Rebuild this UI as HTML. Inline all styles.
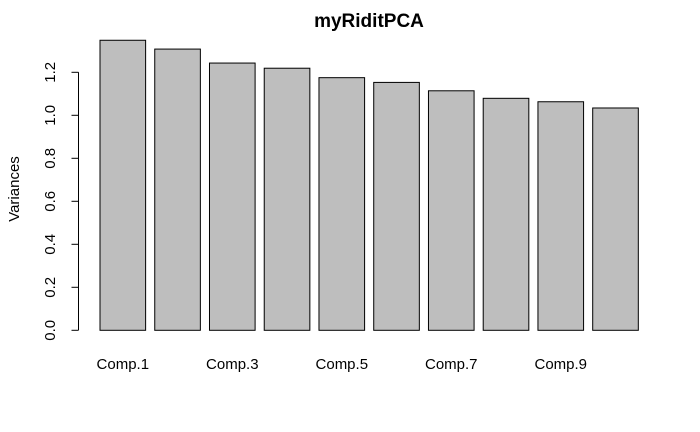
<!DOCTYPE html>
<html><head><meta charset="utf-8"><style>
html,body{margin:0;padding:0;background:#fff;}
svg{display:block;font-family:"Liberation Sans",Arial,sans-serif;}
</style></head><body>
<svg id="chart" width="700" height="432" viewBox="0 0 700 432">
<text x="369" y="27" text-anchor="middle" font-size="19" font-weight="bold">myRiditPCA</text>
<text transform="translate(19,189) rotate(-90)" text-anchor="middle" font-size="15">Variances</text>
<g id="bars"></g>
<g id="yaxis"></g>
<g id="xlabels"></g>
</svg>
<script>
const categories = ["Comp.1","Comp.2","Comp.3","Comp.4","Comp.5","Comp.6","Comp.7","Comp.8","Comp.9","Comp.10"];
const variances = [1.349,1.308,1.243,1.219,1.175,1.153,1.114,1.079,1.063,1.034];
const yTicks = [0,0.2,0.4,0.6,0.8,1.0,1.2];
const yTickLabels = ["0.0","0.2","0.4","0.6","0.8","1.0","1.2"];

const NS="http://www.w3.org/2000/svg";
const y0=330.3, pxPerUnit=215;
function yScale(v){return y0 - v*pxPerUnit;}
const barStart=100, unit=45.62;
function xLeft(i){return barStart + i*1.2*unit;}
function mk(tag,attrs){const e=document.createElementNS(NS,tag);for(const k in attrs)e.setAttribute(k,attrs[k]);return e;}

const gb=document.getElementById('bars');
variances.forEach((v,i)=>{
  const r=mk('rect',{x:xLeft(i),y:yScale(v),width:unit,height:yScale(0)-yScale(v),fill:'#bebebe',stroke:'#000','stroke-width':1});
  
  
  gb.appendChild(r);
});

const gy=document.getElementById('yaxis');
const ax=mk('line',{x1:78.5,x2:78.5,y1:yScale(yTicks[0]),y2:yScale(yTicks[yTicks.length-1]),stroke:'#000'});


gy.appendChild(ax);
yTicks.forEach((t,i)=>{
  const y=yScale(t);
  const tk=mk('line',{x1:71.5,x2:78.5,y1:y,y2:y,stroke:'#000'});
  
  
  gy.appendChild(tk);
  const lb=mk('text',{transform:`translate(55,${y}) rotate(-90)`,'text-anchor':'middle','font-size':15});
  lb.textContent=yTickLabels[i];
  
  
  gy.appendChild(lb);
});

const gx=document.getElementById('xlabels');
categories.forEach((c,i)=>{
  if(i%2!==0) return;
  const t=mk('text',{x:xLeft(i)+unit/2,y:369,'text-anchor':'middle','font-size':15});
  t.textContent=c;
  
  
  gx.appendChild(t);
});
</script>
</body></html>
